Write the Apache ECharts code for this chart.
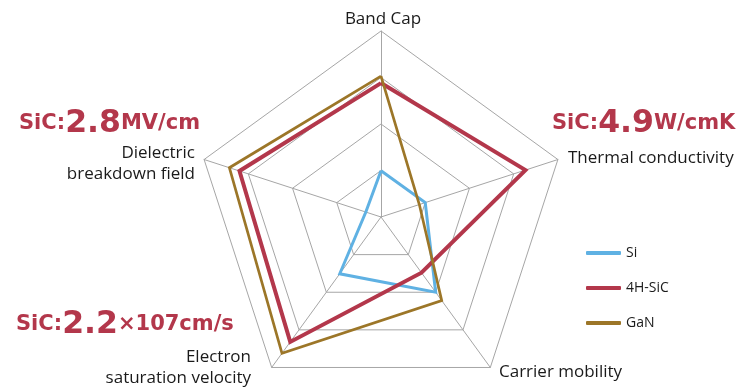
<!DOCTYPE html>
<html>
<head>
<meta charset="utf-8">
<script src="https://cdn.jsdelivr.net/npm/echarts@6/dist/echarts.min.js"></script>
<style>
  html, body { margin: 0; padding: 0; background: #fff; }
  #chart { width: 746px; height: 392px; }
</style>
</head>
<body>
<div id="chart"></div>
<script>
// Radar axes (listed counter-clockwise from the top) and their full-scale values
const axisNames = ['Band Cap', 'Dielectric\nbreakdown field', 'Electron\nsaturation velocity', 'Carrier mobility', 'Thermal conductivity'];
const axisMax = [4.5, 3.5, 2.65, 2700, 6];

// Material properties: band gap (eV), breakdown field (MV/cm),
// saturation velocity (×10^7 cm/s), mobility (cm²/Vs), thermal conductivity (W/cmK)
const seriesNames = ['Si', '4H-SiC', 'GaN'];
const siValues = [1.12, 0.3, 1.0, 1350, 1.5];
const sicValues = [3.24, 2.8, 2.2, 1000, 4.9];
const ganValues = [3.41, 3.0, 2.4, 1500, 1.3];

const colors = ['#5fb1e3', '#b3374b', '#9c7628'];
const widths = [3, 4, 2.7];

const chart = echarts.init(document.getElementById('chart'), null, { renderer: 'canvas' });

const labelFont = '"Open Sans", "Noto Sans", sans-serif';
const noteFont = '"DejaVu Sans", sans-serif';
const red = '#b3374b';
const rich = {
  s: { fontSize: 21, fontWeight: 'bold', fill: red, fontFamily: noteFont },
  b: { fontSize: 31.5, fontWeight: 'bold', fill: red, fontFamily: noteFont }
};

function axisLabel(x, y, text, align) {
  return {
    type: 'text', x: x, y: y, silent: true,
    style: {
      text: text, align: align || 'left', verticalAlign: 'top',
      fill: '#1a1a1a', fontSize: 17, fontFamily: labelFont, lineHeight: 20.5
    }
  };
}

function note(x, y, small1, big, small2) {
  return {
    type: 'text', x: x, y: y, silent: true,
    style: {
      text: '{s|' + small1 + '}{b|' + big + '}{s|' + small2 + '}',
      rich: rich, verticalAlign: 'top'
    }
  };
}

const option = {
  animation: false,
  backgroundColor: '#fff',
  color: colors,
  legend: {
    orient: 'vertical',
    left: 581,
    top: 241,
    itemWidth: 35,
    itemHeight: 4,
    itemGap: 21,
    icon: 'roundRect',
    textStyle: { fontSize: 14, color: '#1a1a1a', fontFamily: labelFont },
    data: seriesNames
  },
  radar: {
    center: [381, 217],
    radius: 186,
    startAngle: 90,
    splitNumber: 4,
    shape: 'polygon',
    indicator: axisNames.map((n, i) => ({ name: n, max: axisMax[i], min: 0 })),
    axisName: { show: false },
    axisLine: { lineStyle: { color: '#a6a6a6', width: 1 } },
    splitLine: { lineStyle: { color: '#a6a6a6', width: 1 } },
    splitArea: { show: false },
    axisTick: { show: false },
    axisLabel: { show: false }
  },
  series: [{
    type: 'radar',
    symbol: 'none',
    data: [siValues, sicValues, ganValues].map((v, i) => ({
      name: seriesNames[i],
      value: v,
      lineStyle: { color: colors[i], width: widths[i], join: 'miter' },
      itemStyle: { color: colors[i] }
    })),
    z: 3
  }],
  graphic: [
    axisLabel(383, 9, 'Band Cap', 'center'),
    axisLabel(568, 148, 'Thermal conductivity'),
    axisLabel(499, 362, 'Carrier mobility'),
    axisLabel(195, 143, 'Dielectric\nbreakdown field', 'right'),
    axisLabel(251, 347, 'Electron\nsaturation velocity', 'right'),
    note(19, 108, 'SiC:', '2.8', 'MV/cm'),
    note(552, 108, 'SiC:', '4.9', 'W/cmK'),
    note(16, 309, 'SiC:', '2.2', '×107cm/s')
  ]
};

chart.setOption(option);
</script>
</body>
</html>
